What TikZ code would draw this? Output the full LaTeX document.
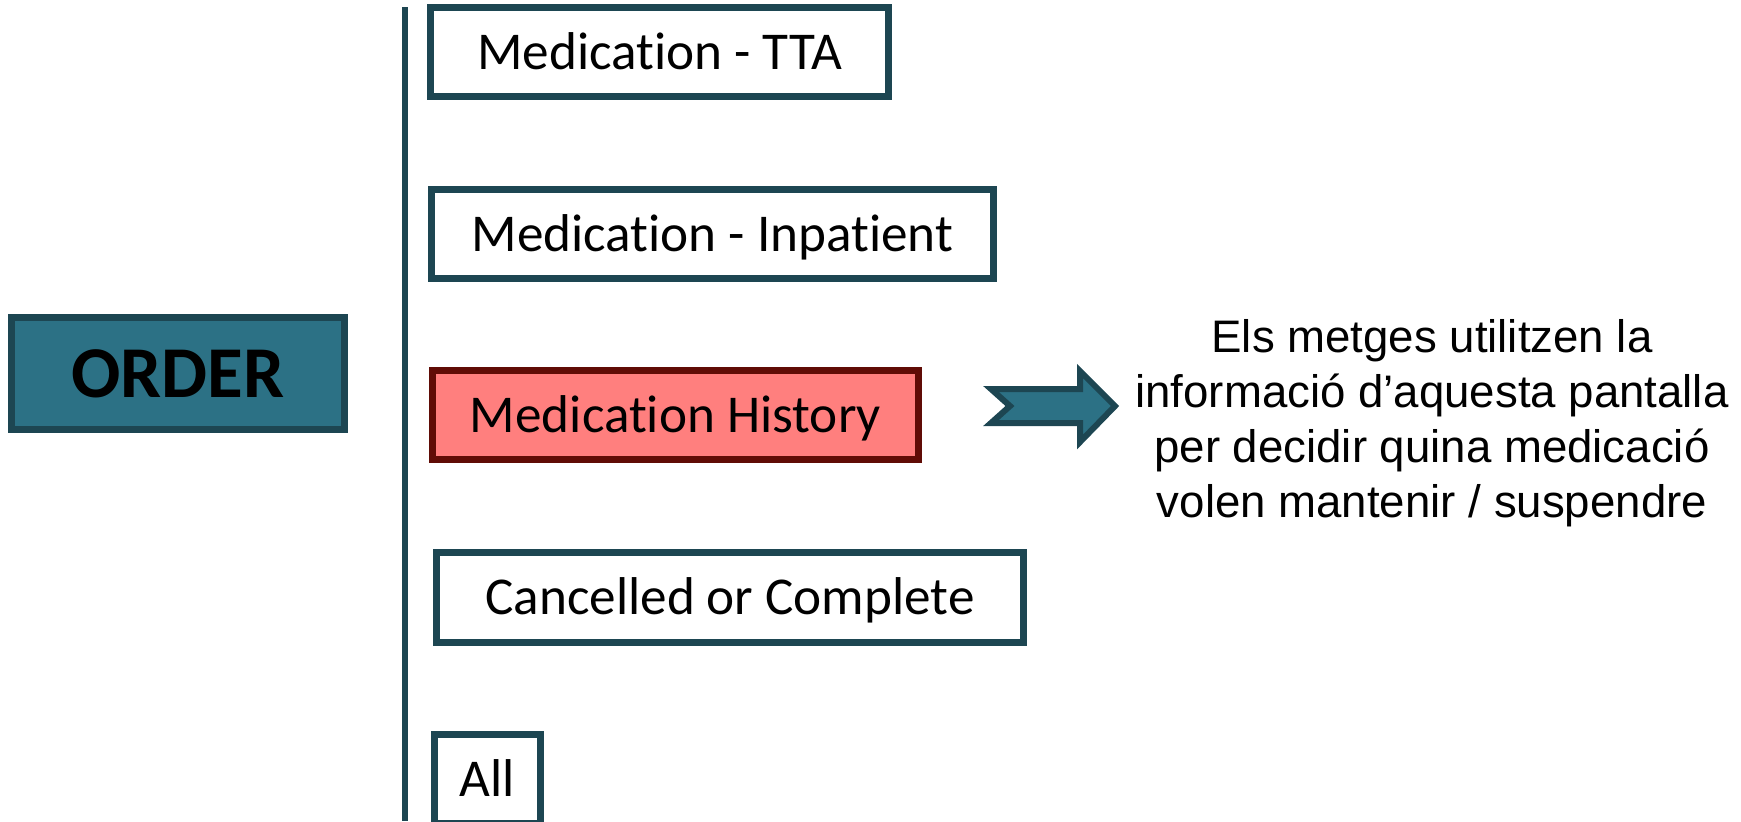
\documentclass[tikz,border=0pt]{standalone}
\usepackage{fontspec}
\setmainfont{Carlito}[Ligatures=NoCommon]
\newfontfamily\arialfont{Liberation Sans}
\definecolor{tealfill}{HTML}{2C7185}
\definecolor{tealline}{HTML}{1D4652}
\definecolor{histfill}{HTML}{FF7F7E}
\definecolor{histline}{HTML}{600C06}

\begin{document}
\begin{tikzpicture}[x=0.5pt, y=-0.5pt,
    tab/.style={draw=tealline, line width=3.5pt, fill=white, inner sep=0pt,
      minimum height=44.5pt, text height=17pt, text depth=0pt,
      font=\fontsize{26.6}{31}\selectfont},
    hist/.style={tab, draw=histline, fill=histfill},
    head/.style={draw=tealline, line width=3.5pt, fill=tealfill, inner sep=0pt,
      text height=23.5pt, text depth=0pt,
      font=\bfseries\fontsize{36.5}{44}\selectfont},
    blockarrow/.style={draw=tealline, line width=3pt, fill=tealfill, line join=miter},
    note/.style={align=center, inner sep=0pt, font=\arialfont\fontsize{22.8}{27.5}\selectfont}]
			\useasboundingbox (0,0) rectangle (1741,821);

			% Nodes
			\node[head, minimum width=166.5pt, minimum height=56pt] (order) at (178,373.5) {ORDER};
			\node[tab, minimum width=229pt] (tta) at (659.5,52) {Medication - TTA};
			\node[tab, minimum width=281pt] (inpatient) at (712.5,234) {Medication - Inpatient};
			\node[hist, minimum width=243pt] (history) at (675.5,415) {Medication History};
			\node[tab, minimum width=293.5pt, minimum height=45pt] (cancelled) at (730,597.5) {Cancelled or Complete};
			\node[tab, minimum width=53pt] (all) at (487.5,779) {All};
			\node[note, anchor=north] (info) at (1432,319) {Els metges utilitzen la\\informació d’aquesta pantalla\\per decidir quina medicació\\volen mantenir / suspendre};

			% Bar and arrow
			\coordinate (bar top) at (405,7);
			\coordinate (bar end) at (405,821);
			\draw[tealline, line width=3pt] (bar top) -- (bar end);
			\draw[blockarrow] (991,389) -- (1080,389) -- (1080,371) -- (1115,406)
				-- (1080,442) -- (1080,423) -- (991,423) -- (1010,406) -- cycle;
		\end{tikzpicture}
\end{document}
